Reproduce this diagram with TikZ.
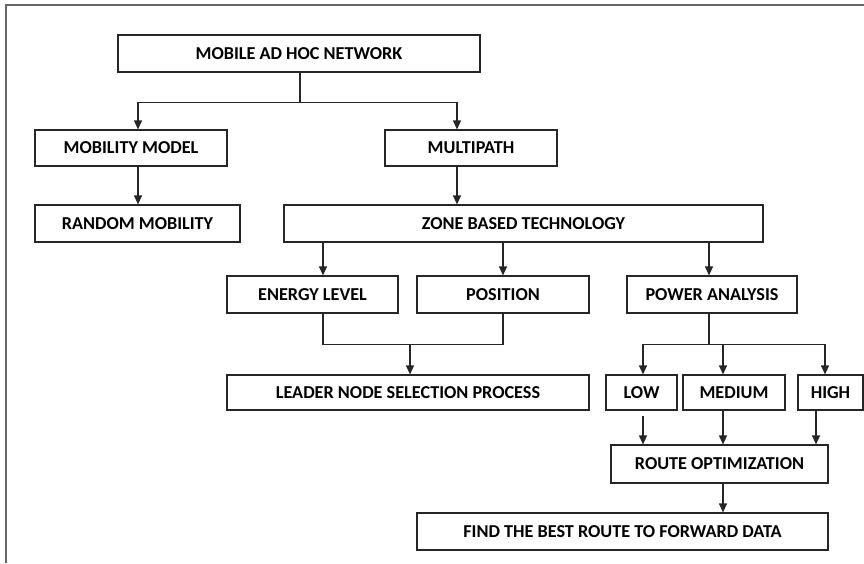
\documentclass[tikz,border=0pt]{standalone}
\usepackage{fontspec}
\setmainfont{Carlito}
\usetikzlibrary{arrows.meta}
\begin{document}
\begin{tikzpicture}[x=1pt,y=-1pt,
  box/.style={draw=black!85,line width=1.2pt,rectangle,inner sep=0pt,
    font=\fontsize{18.2}{20}\selectfont\bfseries,text=black},
  arr/.style={draw=black!85,line width=1.2pt,-{Triangle[width=8pt,length=9pt]}},
  con/.style={draw=black!85,line width=1.2pt},
  frame/.style={draw=black!60,line width=2pt}]
\useasboundingbox (0,0) rectangle (864,563);
\draw[frame] (6,563) -- (6,5) -- (864,5);
% columns
\coordinate (c138) at (138,0);
\coordinate (c300) at (300,0);
\coordinate (c457) at (457,0);
\coordinate (c323) at (323,0);
\coordinate (c503) at (503,0);
\coordinate (c709) at (709,0);
\coordinate (c410) at (410,0);
\coordinate (c643) at (643,0);
\coordinate (c723) at (723,0);
\coordinate (c825) at (825,0);
\coordinate (c816) at (816,0);
% nodes
\node[box,minimum width=362pt,minimum height=37pt] (top) at (299,53.5) {MOBILE AD HOC NETWORK};
\node[box,minimum width=192pt,minimum height=36pt] (mob) at (131,148) {MOBILITY MODEL};
\node[box,minimum width=172pt,minimum height=36pt] (multi) at (471,148) {MULTIPATH};
\node[box,minimum width=205pt,minimum height=37pt] (rand) at (137.5,223.5) {RANDOM MOBILITY};
\node[box,minimum width=479pt,minimum height=37pt] (zone) at (523.5,223.5) {ZONE BASED TECHNOLOGY};
\node[box,minimum width=171pt,minimum height=37pt] (energy) at (312.5,294.5) {ENERGY LEVEL};
\node[box,minimum width=172pt,minimum height=37pt] (pos) at (503,294.5) {POSITION};
\node[box,minimum width=170pt,minimum height=37pt] (power) at (712,294.5) {POWER ANALYSIS};
\node[box,minimum width=362pt,minimum height=35pt] (leader) at (408,392.5) {LEADER NODE SELECTION PROCESS};
\node[box,minimum width=71pt,minimum height=35pt] (low) at (641.5,392.5) {LOW};
\node[box,minimum width=102pt,minimum height=35pt] (med) at (734,392.5) {MEDIUM};
\node[box,minimum width=65pt,minimum height=35pt] (high) at (830.5,392.5) {HIGH};
\node[box,minimum width=217pt,minimum height=38pt] (route) at (719.5,464) {ROUTE OPTIMIZATION};
\node[box,minimum width=411pt,minimum height=37pt] (find) at (622.5,531.5) {FIND THE BEST ROUTE TO FORWARD DATA};
% connectors
\draw[con] (top.south -| c300) -- ++(0,30) coordinate (j1);
\draw[arr] (j1) -| (mob.north -| c138);
\draw[arr] (j1) -| (multi.north -| c457);
\draw[arr] (mob.south -| c138) -- (rand.north -| c138);
\draw[arr] (multi.south -| c457) -- (zone.north -| c457);
\draw[arr] (zone.south -| c323) -- (energy.north -| c323);
\draw[arr] (zone.south -| c503) -- (pos.north -| c503);
\draw[arr] (zone.south -| c709) -- (power.north -| c709);
\draw[con] (energy.south -| c323) -- ++(0,31) coordinate (j2) -| (pos.south -| c503);
\draw[arr] (j2 -| c410) -- (leader.north -| c410);
\draw[con] (power.south -| c709) -- ++(0,31) coordinate (j3);
\draw[arr] (j3) -| (low.north -| c643);
\draw[arr] (j3) -| (high.north -| c825);
\draw[arr] (j3 -| c723) -- (med.north -| c723);
\draw[arr,shorten <=5pt] (low.south -| c643) -- (route.north -| c643);
\draw[arr] (med.south -| c723) -- (route.north -| c723);
\draw[arr] (high.south -| c816) -- (route.north -| c816);
\draw[arr] (route.south -| c723) -- (find.north -| c723);
\end{tikzpicture}
\end{document}
